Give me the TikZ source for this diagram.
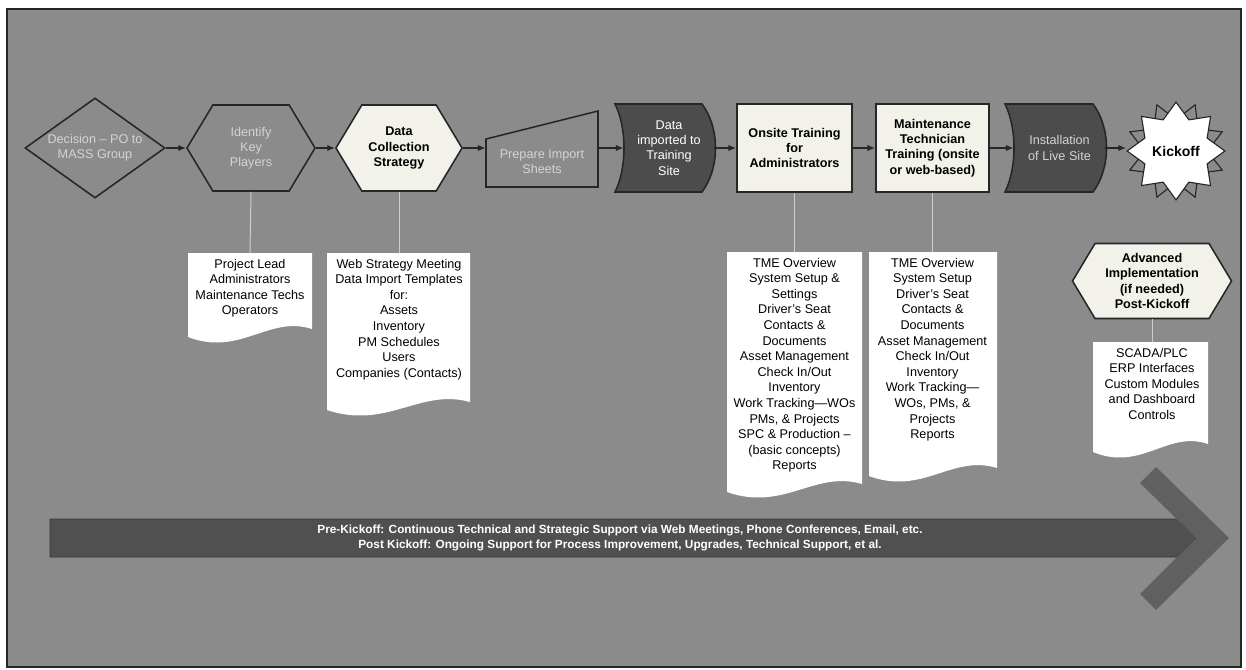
\documentclass[tikz,border=0pt]{standalone}
\usepackage{fontspec}
\setmainfont{Liberation Sans}
\usetikzlibrary{arrows.meta}
\usetikzlibrary{shapes.geometric,shapes.symbols}

\definecolor{panelgray}{RGB}{139,139,139}
\definecolor{shadegray}{RGB}{76,76,76}
\definecolor{bargray}{RGB}{80,80,80}
\definecolor{chevgray}{RGB}{96,96,96}
\definecolor{paleface}{RGB}{242,242,235}
\definecolor{dimtext}{RGB}{212,212,212}
\definecolor{edgegray}{RGB}{38,38,38}
\definecolor{linkgray}{RGB}{205,205,205}

\newcommand{\shapefont}{\fontsize{9}{10.8}\selectfont}
\newcommand{\docfont}{\fontsize{9}{11.1}\selectfont}

% paper sheet with a wavy lower edge: left, right, top, base
\newcommand{\docsheet}[4]{%
	\fill[white] (#1,#3) -- (#2,#3) -- (#2,{#4-8})
		.. controls ({#2-0.35*(#2-#1)},{#4-22}) and ({#1+0.42*(#2-#1)},{#4+20}) .. (#1,#4) -- cycle;}

\tikzset{
	shapeedge/.style={draw=edgegray, line width=1.1pt},
	dimshape/.style={shapeedge, fill=panelgray, text=dimtext, font=\shapefont, align=center},
	paleshape/.style={shapeedge, fill=paleface, text=black, font=\bfseries\shapefont, align=center},
	darkshape/.style={shapeedge, fill=shadegray},
	hexagon/.style={signal, signal to=east and west, signal pointer angle=118, inner sep=0pt},
	shapetext/.style={inner sep=0pt, align=center, font=\shapefont},
	doctext/.style={anchor=north, inner sep=4pt, align=center, font=\docfont},
	flow/.style={draw=edgegray, line width=1.1pt, -{Latex[length=5.5pt,width=4.5pt]}},
	link/.style={draw=linkgray, line width=0.7pt}
}

\begin{document}
\begin{tikzpicture}[x=0.025cm, y=-0.025cm]
	\useasboundingbox (0,0) rectangle (1246,669);
	\fill [white] (0,0) rectangle (1246,669);
	\draw [draw=edgegray, line width=1.6pt, fill=panelgray] (7,9) rectangle (1241,667);

	% top row
	\node [dimshape, diamond, aspect=1.4, minimum width=3.5cm, minimum height=2.5cm, inner sep=0pt] (decision) at (95,148) {Decision – PO to\\MASS Group};
	\node [dimshape, hexagon, minimum width=3.2cm, minimum height=2.15cm] (players) at (251,148) {Identify\\Key\\Players};
	\node [paleshape, hexagon, minimum width=3.15cm, minimum height=2.15cm] (strategy) at (399,148) {Data\\Collection\\Strategy};
	\draw [dimshape] (486,139) -- (598,111) -- (598,187) -- (486,187) -- cycle;
	\node [shapetext, text=dimtext, minimum width=2.8cm] (sheets) at (542,162) {Prepare Import\\Sheets};
	\draw [darkshape] (615,104) .. controls (627,128) and (627,168) .. (615,192) -- (702,192) .. controls (720,168) and (720,128) .. (702,104) -- cycle;
	\node [shapetext, text=white, minimum width=2.25cm] (imported) at (669,148) {Data\\imported to\\Training\\Site};
	\node [paleshape, minimum width=2.875cm, minimum height=2.2cm, inner sep=0pt] (onsite) at (794.5,148) {Onsite Training\\for\\Administrators};
	\node [paleshape, minimum width=2.825cm, minimum height=2.2cm, inner sep=0pt] (techs) at (932.5,148) {Maintenance\\Technician\\Training (onsite\\or web-based)};
	\draw [darkshape] (1005,104) .. controls (1017,128) and (1017,168) .. (1005,192) -- (1093,192) .. controls (1111,168) and (1111,128) .. (1093,104) -- cycle;
	\node [shapetext, text=dimtext, minimum width=2.275cm] (live) at (1059.5,148) {Installation\\of Live Site};
	\node [star, star points=8, star point ratio=1.6, minimum size=2.5cm, inner sep=0pt, rotate=22.5, draw=edgegray, line width=0.8pt, fill=panelgray] (burst) at (1176,151) {};
	\node [star, star points=8, star point ratio=1.45, minimum size=2.25cm, inner sep=0pt, draw=edgegray, line width=0.8pt, fill=white, font=\bfseries\fontsize{10}{12}\selectfont] (kickoff) at (1176,151) {Kickoff};

	\draw [flow] (decision.east) -- (players.west);
	\draw [flow] (players.east) -- (strategy.west);
	\draw [flow] (strategy.east) -- (strategy.east -| sheets.west);
	\draw [flow] (imported.west -| sheets.east) -- (imported.west);
	\draw [flow] (imported.east) -- (onsite.west);
	\draw [flow] (onsite.east) -- (techs.west);
	\draw [flow] (techs.east) -- (live.west);
	\draw [flow] (live.east) -- (live.east -| kickoff.west);

	\node [paleshape, hexagon, minimum width=3.975cm, minimum height=1.875cm] (advanced) at (1152,281) {Advanced\\Implementation\\(if needed)\\Post-Kickoff};

	% hand-outs
	\docsheet{188}{312}{253}{337}
	\node [doctext] (roles) at (250,253) {Project Lead\\Administrators\\Maintenance Techs\\Operators};
	\docsheet{327}{470}{253}{410}
	\node [doctext] (templates) at (399,253) {Web Strategy Meeting\\Data Import Templates\\for:\\Assets\\Inventory\\PM Schedules\\Users\\Companies (Contacts)};
	\docsheet{727}{862}{252}{492}
	\node [doctext] (adminlist) at (794.5,252) {TME Overview\\System Setup \&\\Settings\\Driver's Seat\\Contacts \&\\Documents\\Asset Management\\Check In/Out\\Inventory\\Work Tracking—WOs\\PMs, \& Projects\\SPC \& Production –\\(basic concepts)\\Reports};
	\docsheet{869}{997}{252}{476}
	\node [doctext] (techlist) at (932.5,252) {TME Overview\\System Setup\\Driver's Seat\\Contacts \&\\Documents\\Asset Management\\Check In/Out\\Inventory\\Work Tracking—\\WOs, PMs, \&\\Projects\\Reports};
	\docsheet{1093}{1208}{342}{452}
	\node [doctext] (addons) at (1152,342) {SCADA/PLC\\ERP Interfaces\\Custom Modules\\and Dashboard\\Controls};

	\draw [link] (players.south) -- (roles.north);
	\draw [link] (strategy.south) -- (templates.north);
	\draw [link] (onsite.south) -- (adminlist.north);
	\draw [link] (techs.south) -- (techlist.north);
	\draw [link] (advanced.south) -- (addons.north);

	% support arrow
	\draw [fill=bargray, draw=edgegray!60!bargray, line width=0.5pt] (50,519) -- (1177,519) -- (1196,538) -- (1177,557) -- (50,557) -- cycle;
	\fill [chevgray] (1156,467) -- (1229,538) -- (1156,610) -- (1140,594) -- (1196,538) -- (1140,483) -- cycle;
	\node [text=white, font=\bfseries\fontsize{8.4}{10.6}\selectfont, align=center] (support) at (620,538) {Pre-Kickoff: Continuous Technical and Strategic Support via Web Meetings, Phone Conferences, Email, etc.\\Post Kickoff: Ongoing Support for Process Improvement, Upgrades, Technical Support, et al.};
\end{tikzpicture}
\end{document}
